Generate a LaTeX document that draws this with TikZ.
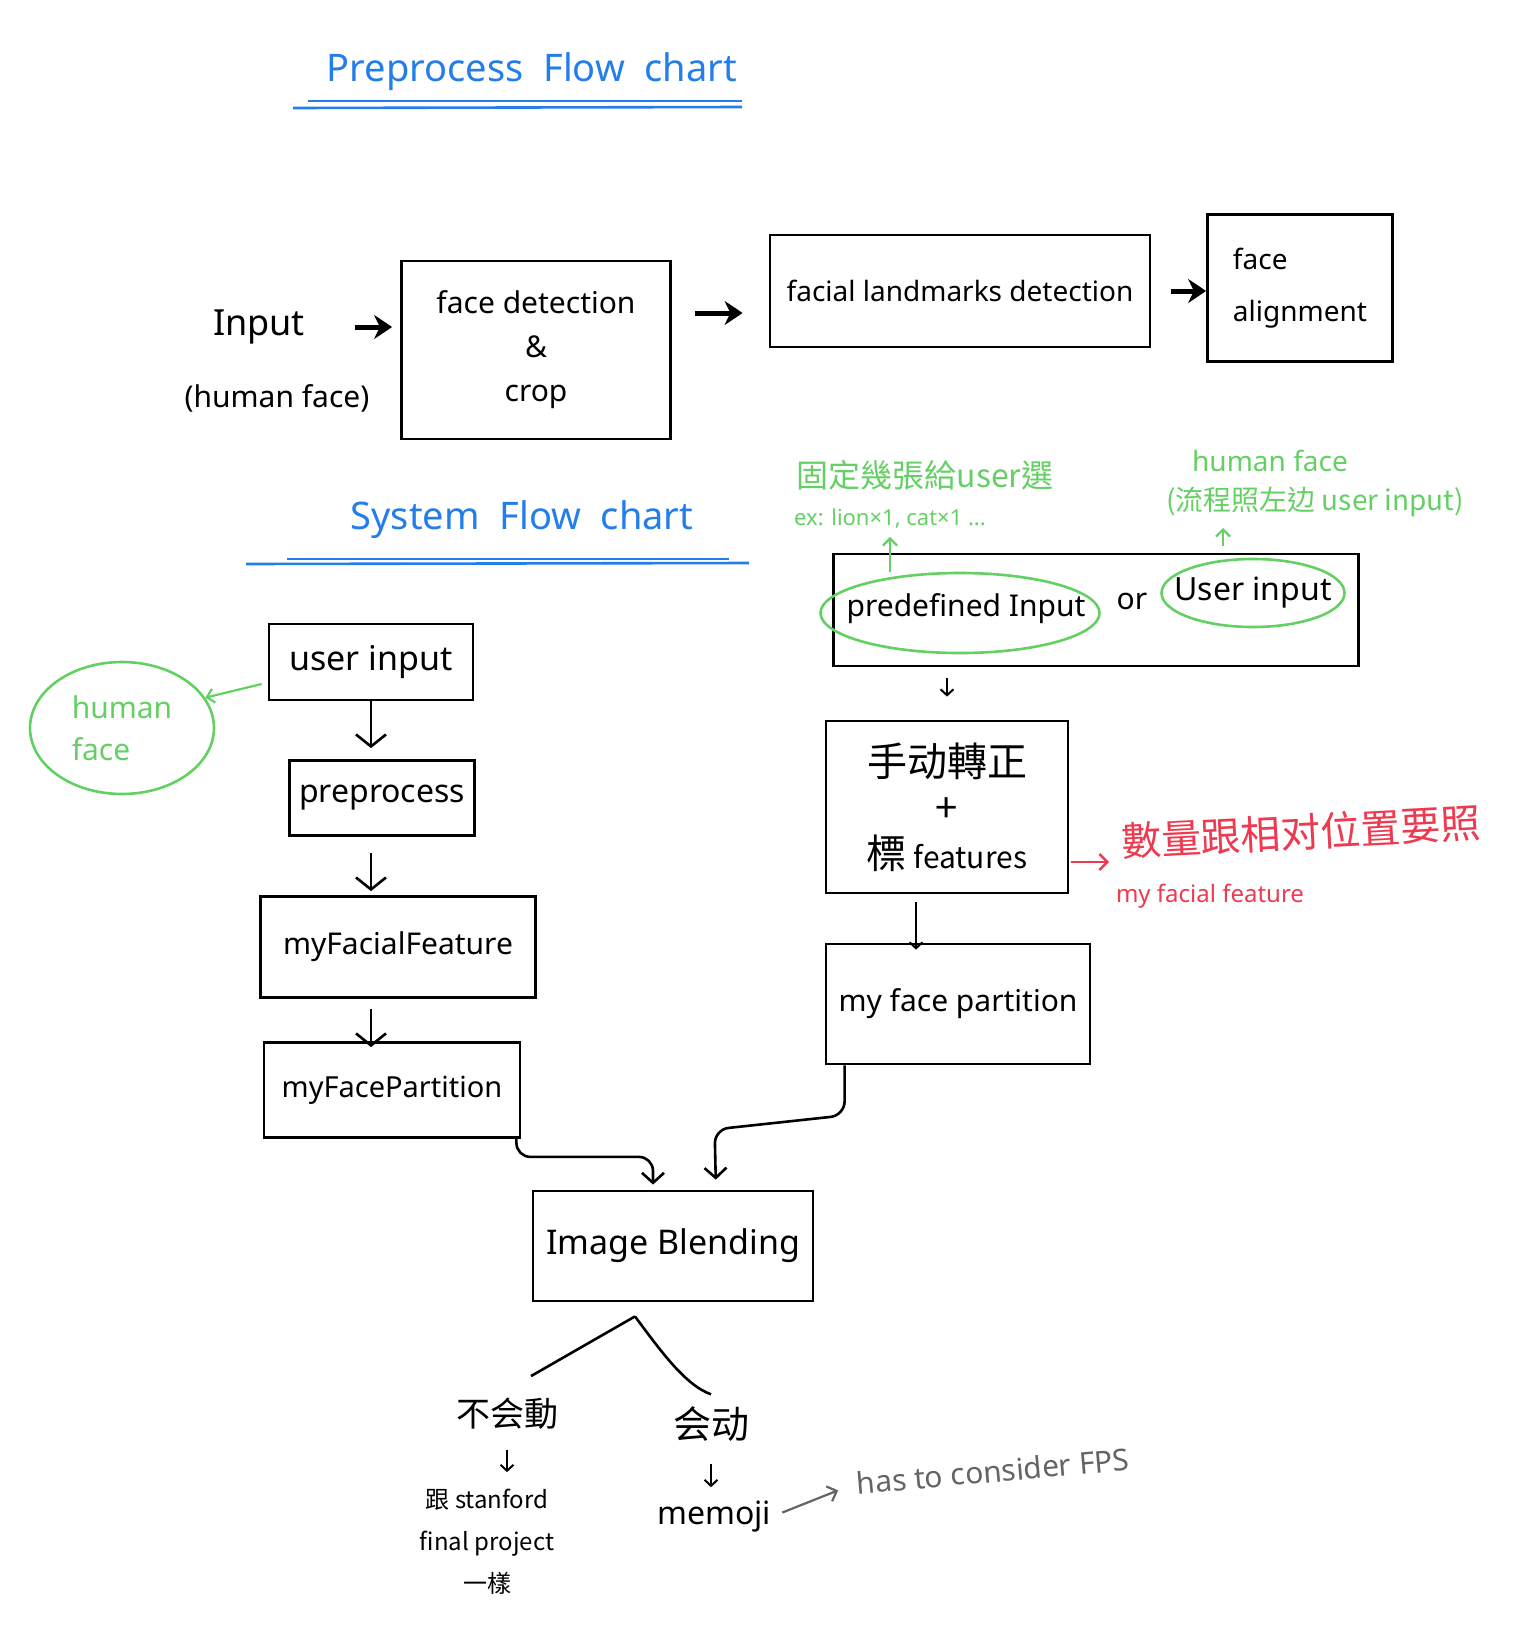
\documentclass[tikz,border=0pt]{standalone}
\usepackage{fontspec}
\setmainfont{Noto Sans}
\newfontfamily\cjk{Noto Sans CJK TC}
\usetikzlibrary{arrows.meta,shapes.geometric}
\definecolor{penblue}{RGB}{35,125,235}
\definecolor{pengreen}{RGB}{100,208,100}
\definecolor{penred}{RGB}{238,58,80}
\definecolor{pengrey}{RGB}{100,100,100}
\newcommand{\fsz}[2]{\fontsize{#1}{#2}\selectfont}
\tikzset{
  box/.style={draw, line width=2.8pt, inner sep=0pt},
  hand/.style={inner sep=0pt},
  title/.style={penblue, inner sep=0pt, font=\fsz{38}{42}},
  ring/.style={ellipse, draw=pengreen, line width=2.6pt, inner sep=0pt},
  bigarrow/.style={line width=5pt, -{Stealth[length=18pt,width=24pt]}},
  downarrow/.style={line width=2.6pt, -{Straight Barb[length=12pt,width=30pt]}},
  flowarrow/.style={line width=2.6pt, rounded corners=14pt, -{Straight Barb[length=10pt,width=22pt]}},
  thinarrow/.style={line width=2pt, -{Straight Barb[length=6pt,width=13pt]}},
  greenarrow/.style={pengreen, line width=2.2pt, -{Straight Barb[length=7pt,width=14pt]}},
  redarrow/.style={penred, line width=2.4pt, -{Straight Barb[length=8pt,width=16pt]}},
  greyarrow/.style={pengrey, line width=2.2pt, -{Straight Barb[length=8pt,width=16pt]}},
  uline/.style={penblue, line width=2.6pt},
}
\begin{document}
\begin{tikzpicture}[x=1pt,y=-1pt]
\useasboundingbox (0,0) rectangle (1536,1638);

\node[title] (pretitle) at (532,72) {Preprocess\ \ Flow\ \ chart};
\coordinate (pua) at (308,101); \coordinate (pub) at (742,101);
\coordinate (puc) at (293,108); \coordinate (pud) at (742,107);
\draw[uline] (pua) -- (pub);
\draw[uline] (puc) -- (pud);

\node[hand, font=\fsz{36}{40}] (inp) at (259,327) {Input};
\node[hand, font=\fsz{30}{34}] (inpsub) at (277,398) {(human face)};
\node[box, minimum width=269pt, minimum height=178pt, align=center, font=\fsz{30}{44}] (det) at (536,350) {face detection\\\&\\crop};
\node[box, minimum width=380pt, minimum height=112pt, font=\fsz{28}{32}] (land) at (960,291) {facial landmarks detection};
\node[box, minimum width=185pt, minimum height=147pt, align=left, font=\fsz{28}{52}] (fal) at (1300,288) {face\\alignment};
\coordinate (detout) at (671,313);
\draw[bigarrow, shorten <=50pt, shorten >=8pt] (inp.east) -- (inp.east -| det.west);
\draw[bigarrow, shorten <=24pt, shorten >=26pt] (detout) -- (detout -| land.west);
\draw[bigarrow, shorten <=20pt, shorten >=0pt] (land.east) -- (land.east -| fal.west);

\node[title] (systitle) at (522,520) {System\ \ Flow\ \ chart};
\coordinate (sua) at (287,559); \coordinate (sub) at (729,559);
\coordinate (suc) at (246,564); \coordinate (sud) at (749,563);
\draw[uline] (sua) -- (sub);
\draw[uline] (suc) -- (sud);

\node[box, minimum width=204pt, minimum height=76pt, font=\fsz{34}{38}] (uin) at (371,662) {user input};
\node[ring, minimum width=184pt, minimum height=132pt, text=pengreen, align=left, font=\fsz{30}{42}] (hface) at (122,728) {human\\face};
\node[box, minimum width=185pt, minimum height=75pt, font=\fsz{32}{36}] (pre) at (382,798) {preprocess};
\node[box, minimum width=275pt, minimum height=101pt, font=\fsz{30}{34}] (feat) at (398,947) {myFacialFeature};
\node[box, minimum width=256pt, minimum height=95pt, font=\fsz{29}{34}] (part) at (392,1090) {myFacePartition};
\draw[greenarrow] ([xshift=-6pt,yshift=-22pt]uin.west) -- (hface.20);
\draw[downarrow, shorten >=11pt] (uin.south) -- (uin.south |- pre.north);
\draw[downarrow, shorten <=16pt, shorten >=4pt] (pre.south -| uin.south) -- (uin.south |- feat.north);
\draw[downarrow, shorten <=10pt, shorten >=-6pt] (feat.south -| uin.south) -- (uin.south |- part.north);

\node[box, minimum width=525pt, minimum height=112pt] (pin) at (1096,610) {};
\node[ring, minimum width=279pt, minimum height=80pt] (pdfring) at (960,613) {};
\node[hand, font=\fsz{30}{34}] (pdf) at (966,609) {predefined Input};
\node[hand, font=\fsz{30}{34}] (orw) at (1132,601) {or};
\node[ring, minimum width=183pt, minimum height=68pt] (usrring) at (1253,593) {};
\node[hand, font=\fsz{32}{36}] (usr) at (1253,593) {User input};

\node[hand, text=pengreen, font=\cjk\fsz{32}{36}] (fixnote) at (925,475) {固定幾張給user選};
\node[hand, text=pengreen, font=\fsz{22}{26}] (exnote) at (890,519) {ex: lion×1, cat×1 ...};
\node[hand, text=pengreen, font=\fsz{28}{32}] (hnote) at (1270,461) {human face};
\node[hand, text=pengreen, font=\cjk\fsz{28}{32}] (flownote) at (1315,502) {(流程照左边 user input)};
\coordinate (flowtip) at (1223,528);
\draw[greenarrow, shorten >=8pt] (pdfring.north -| exnote.south) -- (exnote.south);
\draw[greenarrow, shorten <=12pt] (flowtip |- usrring.north) -- (flowtip);

\node[box, minimum width=242pt, minimum height=172pt, align=center, font=\cjk\fsz{40}{46}] (manual) at (947,807) {手动轉正\\+\\標{\fsz{30}{46} features}};
\node[hand, text=penred, font=\cjk\fsz{40}{44}, rotate=3] (rednote) at (1301,832) {數量跟相对位置要照};
\node[hand, text=penred, font=\fsz{24}{28}] (rednote2) at (1210,896) {my facial feature};
\coordinate (redout) at ([yshift=-55pt]manual.east);
\draw[thinarrow, shorten <=11pt, shorten >=23pt] (manual.north |- pin.south) -- (manual.north);
\draw[redarrow, shorten <=2pt, shorten >=12pt] (redout) -- (redout -| rednote.west);

\node[box, minimum width=264pt, minimum height=120pt, font=\fsz{30}{34}] (mpart) at (958,1004) {my face partition};
\coordinate (mcol) at (916,0);
\draw[thinarrow, shorten <=8pt, shorten >=-7pt] (manual.south -| mcol) -- (mpart.north -| mcol);

\node[box, minimum width=280pt, minimum height=110pt, font=\fsz{34}{38}] (blend) at (673,1246) {Image Blending};
\coordinate (lin) at (653,0);
\coordinate (rin) at (716,0);
\draw[flowarrow, shorten >=5pt] ([xshift=-5pt]part.south east) -- ++(0,18) -| (lin |- blend.north);
\draw[flowarrow, shorten >=10pt] ([xshift=20pt]mpart.south west) -- ++(0,50) -- ++(-130,14) -- (rin |- blend.north);

\coordinate (apex) at ([xshift=-38pt,yshift=-14pt]blend.south);
\node[hand, font=\cjk\fsz{34}{38}] (still) at (507,1414) {不会動};
\node[hand, font=\cjk\fsz{38}{42}] (moving) at (711,1424) {会动};
\draw[line width=2.6pt] (apex) -- ([xshift=24pt,yshift=22pt]still.north);
\draw[line width=2.6pt] (apex) .. controls (660,1350) and (685,1385) .. ([yshift=12pt]moving.north);

\node[hand, align=center, font=\cjk\fsz{24}{42}] (stan) at (487,1542) {跟 stanford\\final project\\一樣};
\node[hand, font=\fsz{32}{36}] (memoji) at (714,1517) {memoji};
\node[hand, text=pengrey, font=\fsz{30}{34}, rotate=5] (fps) at (993,1471) {has to consider FPS};
\draw[thinarrow, shorten <=20pt, shorten >=17pt] (still.south) -- (still.south |- stan.north);
\draw[thinarrow, shorten <=22pt, shorten >=14pt] (moving.south) -- (moving.south |- memoji.north);
\draw[greyarrow, shorten <=12pt, shorten >=20pt] (memoji.east) -- (fps.west);
\end{tikzpicture}
\end{document}
